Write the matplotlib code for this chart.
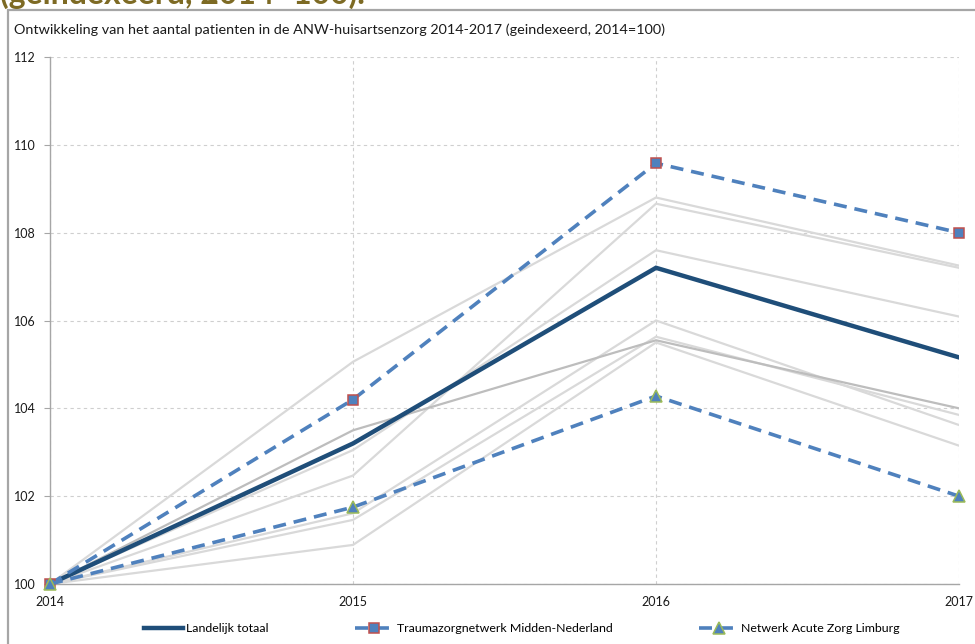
import matplotlib
matplotlib.use("Agg")
import matplotlib.pyplot as plt
from matplotlib.lines import Line2D
from matplotlib.patches import Rectangle

# ---------------- data ----------------
years = [2014, 2015, 2016, 2017]
year_labels = ["2014", "2015", "2016", "2017"]

landelijk_totaal = [100, 103.2, 107.2, 105.16]
trauma_midden_nederland = [100, 104.2, 109.58, 108.0]
acute_zorg_limburg = [100, 101.75, 104.28, 102.0]

# other regions (grey background lines)
regio_1 = [100, 105.06, 108.8, 107.25]
regio_2 = [100, 103.05, 107.6, 106.09]
regio_3 = [100, 102.47, 108.66, 107.2]
regio_4 = [100, 101.61, 106.0, 103.62]
regio_5 = [100, 101.46, 105.63, 103.85]
regio_6 = [100, 100.89, 105.5, 103.15]
regio_7 = [100, 103.5, 105.55, 104.0]   # slightly darker grey line

light_regions = [regio_1, regio_2, regio_3, regio_4, regio_5, regio_6]
dark_regions = [regio_7]

y_ticks = [100, 102, 104, 106, 108, 110, 112]

title = "Ontwikkeling van het aantal patienten in de ANW-huisartsenzorg 2014-2017 (geindexeerd, 2014=100)"
header = "(geindexeerd, 2014=100)."
legend_labels = ["Landelijk totaal", "Traumazorgnetwerk Midden-Nederland", "Netwerk Acute Zorg Limburg"]

# ---------------- style ----------------
plt.rcParams['font.family'] = ['Lato', 'DejaVu Sans']
W, H = 975, 644
fig = plt.figure(figsize=(W / 100, H / 100), dpi=100)

# outer chart frame (extends beyond the image on right/bottom)
frame = Rectangle((8 / W, -0.1), 1.2, 1 - 10 / H + 0.1, transform=fig.transFigure,
                  fill=False, edgecolor="#a6a6a6", linewidth=1.6, zorder=0)
fig.patches.append(frame)

# header text above the frame, cut by the top edge as in the source
fig.text(0.0, 1 - 4 / H, header, fontsize=23, fontweight="bold", color="#7d6a24",
         ha="left", va="baseline")

fig.text(14 / W, 1 - 30 / H, title, fontsize=10.4, color="#1a1a1a", ha="left", va="center")

ax = fig.add_axes([50 / W, 1 - 584 / H, (959 - 50) / W, (584 - 57) / H])

grey_light = "#d9d9d9"
grey_dark = "#bdbdbd"
navy = "#1f4e79"
mid_blue = "#4f81bd"

for r in light_regions:
    ax.plot(years, r, color=grey_light, lw=1.6, zorder=2, solid_joinstyle="miter")
for r in dark_regions:
    ax.plot(years, r, color=grey_dark, lw=1.6, zorder=2)

ax.plot(years, landelijk_totaal, color=navy, lw=3.2, zorder=4, solid_joinstyle="miter",
        label=legend_labels[0])
ax.plot(years, trauma_midden_nederland, color=mid_blue, lw=2.6, dashes=(3.6, 2.2), zorder=5,
        marker="s", markersize=7.5, markerfacecolor=mid_blue, markeredgecolor="#c0504d",
        markeredgewidth=1.1, clip_on=False, label=legend_labels[1])
ax.plot(years, acute_zorg_limburg, color=mid_blue, lw=2.6, dashes=(3.6, 2.2), zorder=5,
        marker="^", markersize=9, markerfacecolor=mid_blue, markeredgecolor="#9bbb59",
        markeredgewidth=1.1, clip_on=False, label=legend_labels[2])

ax.set_xlim(2014, 2017)
ax.set_ylim(100, 112)
ax.set_xticks(years)
ax.set_xticklabels(year_labels)
ax.set_yticks(y_ticks)
ax.grid(True, color="#cfcfcf", lw=0.8, linestyle=(0, (3, 3)))
ax.set_axisbelow(True)

for side in ["top", "right"]:
    ax.spines[side].set_visible(False)
for side in ["left", "bottom"]:
    ax.spines[side].set_color("#a6a6a6")
    ax.spines[side].set_linewidth(1.0)

ax.tick_params(axis="y", length=4, color="#a6a6a6", labelsize=9, labelcolor="#1a1a1a", pad=6)
ax.tick_params(axis="x", length=0, labelsize=9, labelcolor="#1a1a1a", pad=9)

handles = [
    Line2D([], [], color=navy, lw=3.2),
    Line2D([], [], color=mid_blue, lw=2.6, dashes=(3.6, 2.2), marker="s", markersize=7.5,
           markerfacecolor=mid_blue, markeredgecolor="#c0504d", markeredgewidth=1.1),
    Line2D([], [], color=mid_blue, lw=2.6, dashes=(3.6, 2.2), marker="^", markersize=9,
           markerfacecolor=mid_blue, markeredgecolor="#9bbb59", markeredgewidth=1.1),
]
fig.legend(handles, legend_labels, loc="center", bbox_to_anchor=(0.535, 1 - 629 / H), ncol=3,
           frameon=False, fontsize=8.9, handlelength=3.2, handletextpad=0.2, columnspacing=7.0)

fig.savefig("out.png", dpi=100)
